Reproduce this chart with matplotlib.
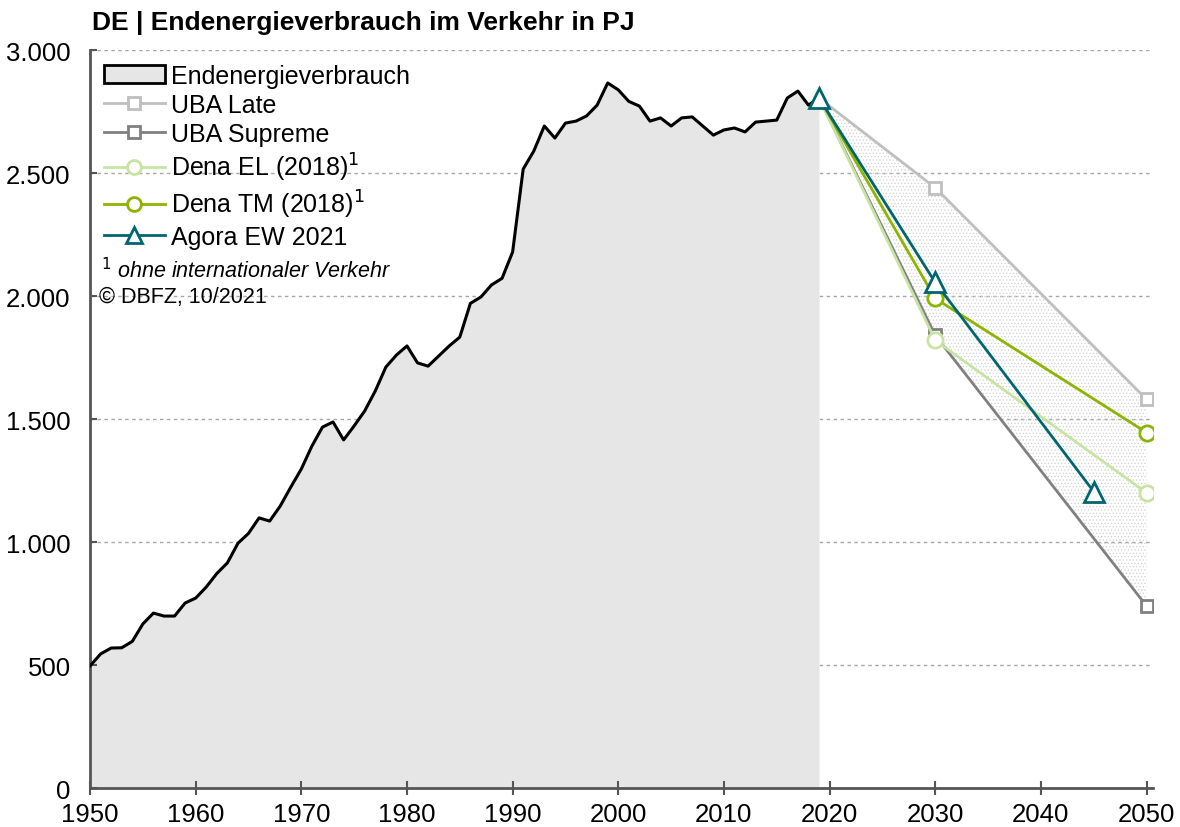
import matplotlib
matplotlib.use('Agg')
import matplotlib.pyplot as plt
from matplotlib.patches import Patch
from matplotlib.lines import Line2D
from matplotlib.ticker import FuncFormatter

plt.rcParams['font.family'] = ['Liberation Sans', 'DejaVu Sans']
plt.rcParams['hatch.linewidth'] = 0.5

# historischer Endenergieverbrauch Verkehr (PJ)
years = list(range(1950, 2020))
verbrauch = [496, 545, 569, 570, 596, 667, 711, 699, 699, 752,
             772, 817, 872, 915, 995, 1035, 1098, 1085, 1146, 1223,
             1297, 1390, 1467, 1488, 1415, 1472, 1533, 1614, 1711, 1760,
             1797, 1728, 1715, 1756, 1797, 1833, 1970, 1996, 2045, 2072,
             2179, 2516, 2589, 2691, 2642, 2703, 2711, 2732, 2776, 2866,
             2838, 2791, 2772, 2711, 2724, 2691, 2724, 2728, 2691, 2654,
             2675, 2683, 2667, 2707, 2711, 2715, 2805, 2833, 2776, 2805]

# Szenarien
scen_years = [2019, 2030, 2050]
uba_late = [2805, 2440, 1580]
uba_supreme = [2805, 1840, 740]
dena_el = [2805, 1820, 1200]
dena_tm = [2805, 1990, 1445]
agora_years = [2019, 2030, 2045]
agora_ew = [2805, 2055, 1205]

c_late = '#bfbfbf'
c_supreme = '#808080'
c_el = '#c8e3a2'
c_tm = '#8cb400'
c_agora = '#00666e'

fig = plt.figure(figsize=(11.8, 8.28), dpi=100)
ax = fig.add_axes([0.0763, 0.0471, 0.9007, 0.8913])

# Gitterlinien
for v in [500, 1000, 1500, 2000, 2500, 3000]:
    ax.axhline(v, color='#a6a6a6', linestyle=(0, (2.5, 2.5)), linewidth=1, zorder=0)

# Fläche
ax.fill_between(years, verbrauch, 0, color='#e6e6e6', linewidth=0, zorder=1)
ax.plot(years, verbrauch, color='black', linewidth=2.2, zorder=3)

# Korridor zwischen UBA Late und UBA Supreme
ax.fill_between(scen_years, uba_late, uba_supreme, facecolor='none',
                edgecolor='#d0d0d0', hatch='.....', linewidth=0, zorder=1)

mk = dict(markerfacecolor='white', markeredgewidth=2, linewidth=2)
ax.plot(scen_years, uba_late, color=c_late, marker='s', markersize=9,
        markeredgecolor=c_late, markevery=[1, 2], zorder=4, **mk)
ax.plot(scen_years, uba_supreme, color=c_supreme, marker='s', markersize=9,
        markeredgecolor=c_supreme, markevery=[1, 2], zorder=4, **mk)
ax.plot(scen_years, dena_el, color=c_el, marker='o', markersize=11,
        markeredgecolor=c_el, markevery=[1, 2], zorder=4, **mk)
ax.plot(scen_years, dena_tm, color=c_tm, marker='o', markersize=11,
        markeredgecolor=c_tm, markevery=[1, 2], zorder=4, **mk)
ax.plot(agora_years, agora_ew, color=c_agora, marker='^', markersize=14,
        markeredgecolor=c_agora, zorder=5, **mk)

ax.set_xlim(1950, 2050.6)
ax.set_ylim(0, 3000)
ax.set_xticks(range(1950, 2051, 10))
ax.set_yticks(range(0, 3001, 500))
ax.yaxis.set_major_formatter(FuncFormatter(lambda v, p: f'{int(v):,}'.replace(',', '.')))
ax.tick_params(axis='both', labelsize=18.5, colors='black', width=1.5)
ax.tick_params(axis='x', direction='inout', length=10, pad=5, color='#555555')
ax.tick_params(axis='y', direction='in', length=5, color='#555555', pad=14)
for s in ['top', 'right']:
    ax.spines[s].set_visible(False)
for s in ['left', 'bottom']:
    ax.spines[s].set_color('#555555')
    ax.spines[s].set_linewidth(2)

fig.text(0.078, 0.972, 'DE | Endenergieverbrauch im Verkehr in PJ',
         fontsize=19, fontweight='bold', va='center', ha='left')

handles = [
    Patch(facecolor='#e6e6e6', edgecolor='black', linewidth=2),
    Line2D([], [], color=c_late, marker='s', markersize=8, markeredgecolor=c_late, **mk),
    Line2D([], [], color=c_supreme, marker='s', markersize=8, markeredgecolor=c_supreme, **mk),
    Line2D([], [], color=c_el, marker='o', markersize=10, markeredgecolor=c_el, **mk),
    Line2D([], [], color=c_tm, marker='o', markersize=10, markeredgecolor=c_tm, **mk),
    Line2D([], [], color=c_agora, marker='^', markersize=12, markeredgecolor=c_agora, **mk),
]
labels = ['Endenergieverbrauch', 'UBA Late', 'UBA Supreme',
          'Dena EL (2018)$^1$', 'Dena TM (2018)$^1$', 'Agora EW 2021']
ax.legend(handles, labels, loc='upper left', bbox_to_anchor=(0.0, 1.0),
          frameon=False, fontsize=18, handlelength=2.45, handletextpad=0.25,
          labelspacing=0.2, borderaxespad=0.4, borderpad=0.15)

ax.text(0.01, 0.703, '$^1$ ohne internationaler Verkehr', transform=ax.transAxes,
        fontsize=15.5, fontstyle='italic', va='center')
ax.text(0.008, 0.666, '© DBFZ, 10/2021', transform=ax.transAxes,
        fontsize=15.5, va='center')

fig.savefig('out.png', dpi=100)
